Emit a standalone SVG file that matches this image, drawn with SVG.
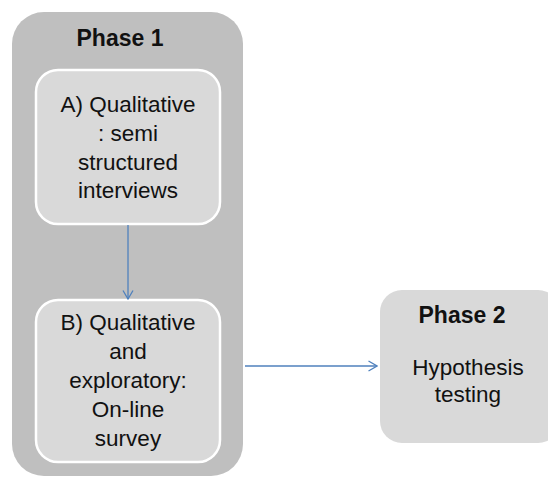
<svg xmlns="http://www.w3.org/2000/svg" width="548" height="477" viewBox="0 0 548 477">
<defs>
<marker id="arr" viewBox="0 0 10 12" refX="9.5" refY="6" markerWidth="10" markerHeight="12" markerUnits="userSpaceOnUse" orient="auto">
<path d="M1,1 L9.5,6 L1,11" fill="none" stroke="#4f81bd" stroke-width="1.3"/>
</marker>
</defs>
<style>
.t{font-family:"Liberation Sans",Arial,sans-serif;font-size:22.5px;fill:#111;text-anchor:middle}
.b{font-weight:bold;font-size:23px}
.in{fill:#d9d9d9;stroke:#ffffff;stroke-width:2.5}
.c{stroke:#4f81bd;stroke-width:1.3;fill:none}
</style>
<rect width="548" height="477" fill="#ffffff"/>
<g id="phase1">
<rect x="12" y="12" width="231" height="464" rx="32" fill="#bfbfbf"/>
<text class="t b" x="120" y="46">Phase 1</text>
</g>
<g id="nodeA">
<rect class="in" x="36" y="70" width="184" height="154" rx="22"/>
<text class="t" x="128" y="112">A) Qualitative</text>
<text class="t" x="128" y="141">: semi</text>
<text class="t" x="128" y="170">structured</text>
<text class="t" x="128" y="198">interviews</text>
</g>
<g id="nodeB">
<rect class="in" x="36" y="300" width="184" height="162" rx="22"/>
<text class="t" x="128" y="330">B) Qualitative</text>
<text class="t" x="128" y="359">and</text>
<text class="t" x="128" y="388">exploratory:</text>
<text class="t" x="128" y="417">On-line</text>
<text class="t" x="128" y="446">survey</text>
</g>
<g id="phase2">
<rect x="380" y="290" width="180" height="153" rx="22" fill="#d9d9d9"/>
<text class="t b" x="462" y="323">Phase 2</text>
<text class="t" x="468" y="375">Hypothesis</text>
<text class="t" x="468" y="402">testing</text>
</g>
<g id="connectors">
<line class="c" x1="128" y1="225" x2="128" y2="299" marker-end="url(#arr)"/>
<line class="c" x1="245" y1="366" x2="377" y2="366" marker-end="url(#arr)"/>
</g>
</svg>
